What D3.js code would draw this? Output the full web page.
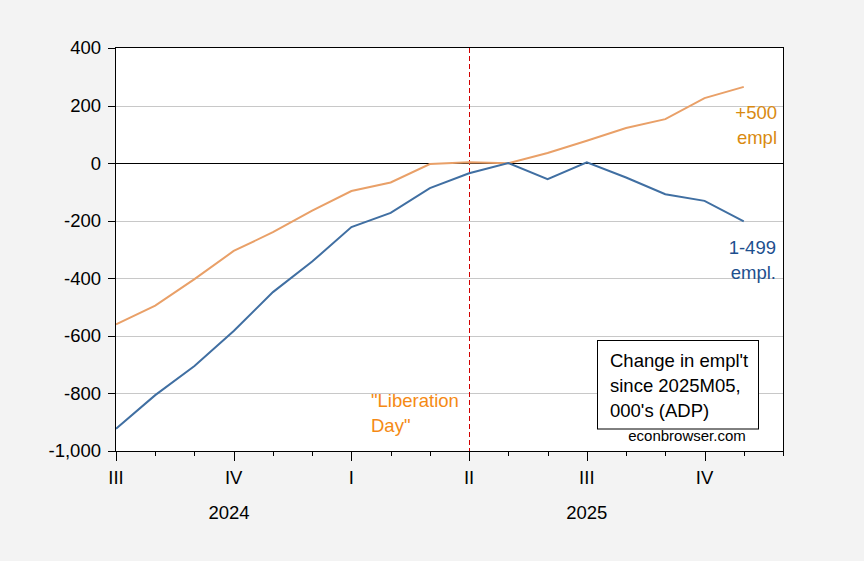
<!DOCTYPE html>
<html>
<head>
    <meta charset="utf-8">
    <title>Change in employment since 2025M05 (ADP)</title>
    <style>
        body { margin: 0; background: #f3f3f3; }
        svg { display: block; font-family: "Liberation Sans", Arial, sans-serif; }
    </style>
</head>
<body>
    <svg width="864" height="561"></svg>

    <script src="https://d3js.org/d3.v7.min.js"></script>
    <script>

        // monthly observations, ADP, change since 2025M05 (thousands)
        var months = ["2024-07", "2024-08", "2024-09", "2024-10", "2024-11", "2024-12",
            "2025-01", "2025-02", "2025-03", "2025-04", "2025-05", "2025-06",
            "2025-07", "2025-08", "2025-09", "2025-10", "2025-11"];
        var small = [-923, -806, -705, -583, -448, -342, -222, -173, -87, -35, 0, -56, 3, -50, -108, -131, -202];
        var large = [-560, -495, -403, -305, -240, -165, -97, -67, -3, 3, 0, 35, 78, 122, 153, 226, 265];

        var yTicks = [-1000, -800, -600, -400, -200, 0, 200, 400];
        var quarterLabels = ["III", "IV", "I", "II", "III", "IV"];
        var yearLabels = ["2024", "2025"];

        var svg = d3.select("svg"),
            pL = 116, pR = 783, pT = 48, pB = 451;

        // axis runs one month past the last observation (to 2025-12)
        var nSlots = months.length; // index 0..17
        var x = d3.scaleLinear().domain([0, nSlots]).range([pL, pR]);
        var y = d3.scaleLinear().domain([-1000, 400]).range([pB, pT]);
        var snap = function (v) { return Math.round(v) + 0.5; };

        svg.append("rect")
            .attr("x", pL).attr("y", pT)
            .attr("width", pR - pL).attr("height", pB - pT)
            .attr("fill", "#fff");

        // gridlines
        svg.selectAll(".grid")
            .data(yTicks.filter(function (d) { return d !== 0 && d !== 400 && d !== -1000; }))
            .enter().append("line")
            .attr("x1", pL).attr("x2", pR)
            .attr("y1", function (d) { return snap(y(d)); })
            .attr("y2", function (d) { return snap(y(d)); })
            .attr("stroke", "#c8c8c8");

        svg.append("line")
            .attr("x1", pL).attr("x2", pR)
            .attr("y1", snap(y(0))).attr("y2", snap(y(0)))
            .attr("stroke", "#000");

        // "Liberation Day" marker at 2025-04
        var libIdx = months.indexOf("2025-04");
        svg.append("line")
            .attr("x1", snap(x(libIdx))).attr("x2", snap(x(libIdx)))
            .attr("y1", pT).attr("y2", pB)
            .attr("stroke", "#d00000")
            .attr("stroke-dasharray", "5,3");

        var line = function (vals) {
            return d3.line()
                .x(function (d, i) { return x(i); })
                .y(function (d) { return y(d); })(vals);
        };

        svg.append("path").attr("d", line(large))
            .attr("fill", "none").attr("stroke", "#e9a068").attr("stroke-width", 2);
        svg.append("path").attr("d", line(small))
            .attr("fill", "none").attr("stroke", "#406fa2").attr("stroke-width", 2);

        // frame
        svg.append("rect")
            .attr("x", pL - 0.5).attr("y", pT - 0.5)
            .attr("width", pR - pL + 1).attr("height", pB - pT + 1)
            .attr("fill", "none").attr("stroke", "#000");

        // y axis
        svg.selectAll(".ytick")
            .data(yTicks)
            .enter().append("line")
            .attr("x1", pL - 8).attr("x2", pL)
            .attr("y1", function (d) { return snap(y(d)); })
            .attr("y2", function (d) { return snap(y(d)); })
            .attr("stroke", "#000");

        svg.selectAll(".ylab")
            .data(yTicks)
            .enter().append("text")
            .attr("x", 101)
            .attr("y", function (d) { return y(d); })
            .attr("dy", "0.35em")
            .attr("text-anchor", "end")
            .style("font-size", "18.5px")
            .text(function (d) { return d3.format(",")(d).replace("\u2212", "-"); });

        // x axis ticks, one per month, longer on quarter starts
        var slots = d3.range(nSlots + 1);
        svg.selectAll(".xtick")
            .data(slots)
            .enter().append("line")
            .attr("x1", function (d) { return snap(x(d)); })
            .attr("x2", function (d) { return snap(x(d)); })
            .attr("y1", pB)
            .attr("y2", function (d) { return d % 3 === 0 ? pB + 10 : pB + 5; })
            .attr("stroke", "#000");

        svg.selectAll(".qlab")
            .data(quarterLabels)
            .enter().append("text")
            .attr("x", function (d, i) { return x(i * 3); })
            .attr("y", 483.5)
            .attr("text-anchor", "middle")
            .style("font-size", "18.5px")
            .text(function (d) { return d; });

        var yearAt = [2.88, 12];
        svg.selectAll(".ylabel")
            .data(yearLabels)
            .enter().append("text")
            .attr("x", function (d, i) { return x(yearAt[i]); })
            .attr("y", 518.5)
            .attr("text-anchor", "middle")
            .style("font-size", "18.5px")
            .text(function (d) { return d; });

        // series labels
        var addText = function (lines, xx, yy, anchor, color) {
            var t = svg.append("text")
                .attr("text-anchor", anchor)
                .style("font-size", "18.5px")
                .attr("fill", color);
            lines.forEach(function (s, i) {
                t.append("tspan").attr("x", xx).attr("y", yy + i * 25).text(s);
            });
        };

        addText(["+500", "empl"], 777, 118.5, "end", "#d98a10");
        addText(["1-499", "empl."], 776, 254, "end", "#1d4f8e");
        addText(["\"Liberation", "Day\""], 371, 407, "start", "#f58a14");

        // note box
        svg.append("rect")
            .attr("x", 597.5).attr("y", 340.5)
            .attr("width", 161).attr("height", 88.5)
            .attr("fill", "#fff").attr("stroke", "#000");
        addText(["Change in empl't", "since 2025M05,", "000's (ADP)"], 610, 367, "start", "#000");

        svg.append("text")
            .attr("x", 687).attr("y", 441)
            .attr("text-anchor", "middle")
            .style("font-size", "15px")
            .text("econbrowser.com");

    </script>
</body>
</html>
